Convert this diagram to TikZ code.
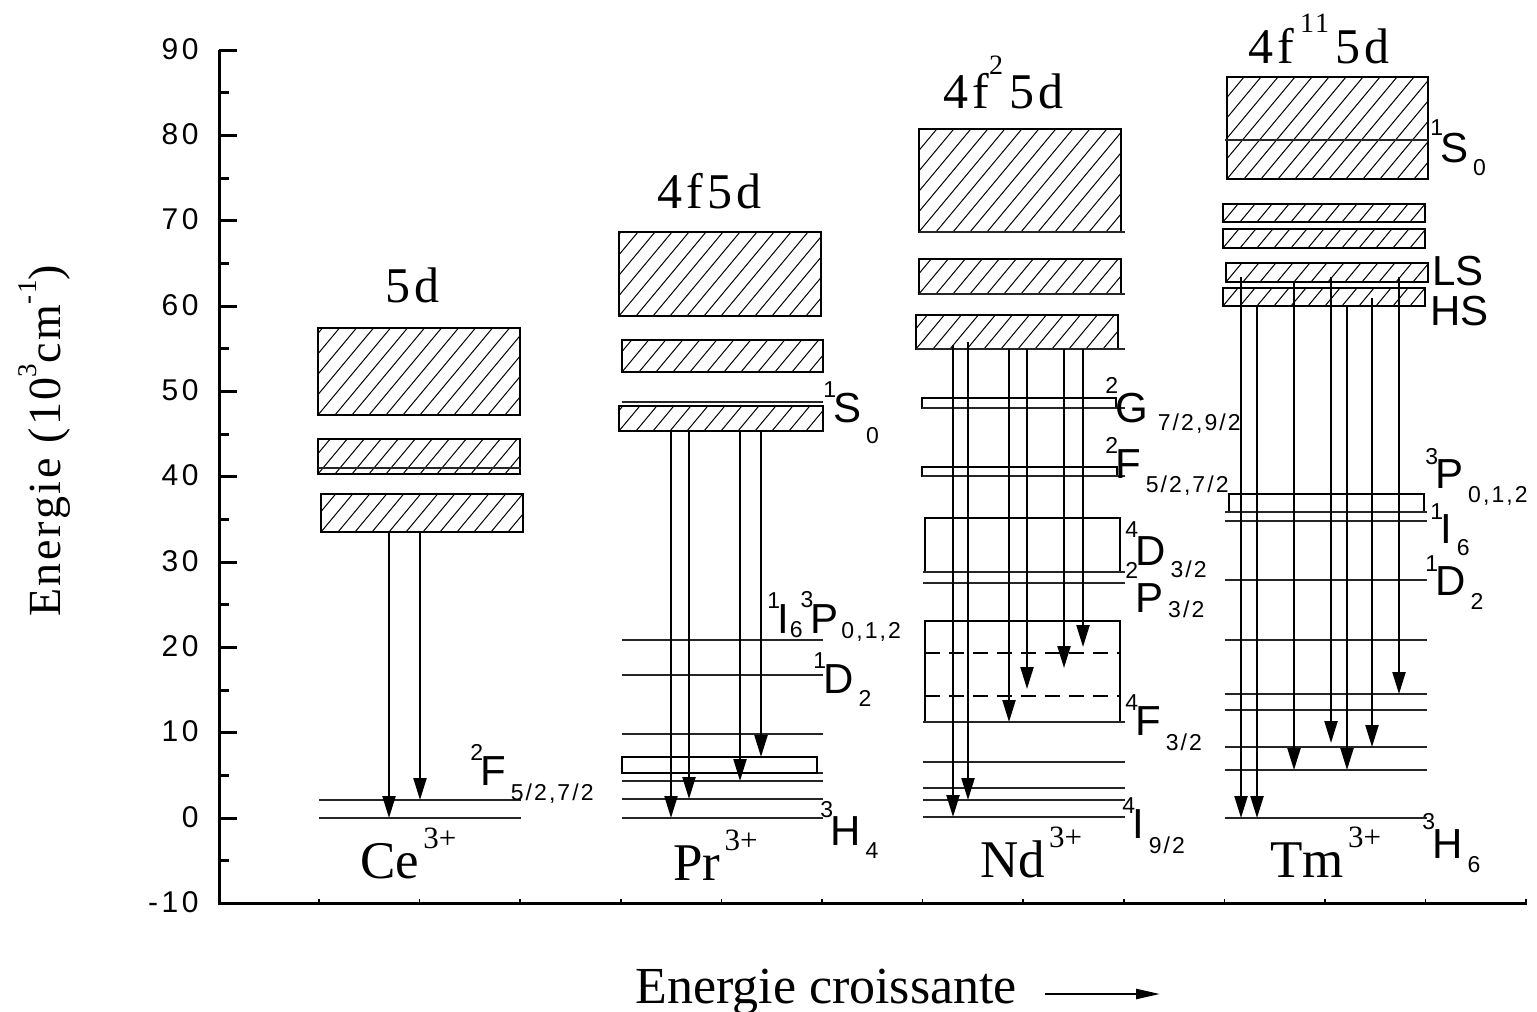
\documentclass[tikz,border=0pt]{standalone}
\usepackage{fontspec}
\setmainfont{Liberation Serif}
\newfontfamily\arialf{Liberation Sans}
\newfontfamily\arialsp[LetterSpace=9]{Liberation Sans}
\newfontfamily\ticksf[LetterSpace=12]{Liberation Sans}
\newfontfamily\timessp[LetterSpace=8]{Liberation Serif}
\newfontfamily\timesy[LetterSpace=6]{Liberation Serif}
\usetikzlibrary{arrows.meta}

\newcommand\smd[1]{{\arialsp\fontsize{11.5}{13}\selectfont #1}}
\newcommand\tsup[2][12.5pt]{\raisebox{#1}{\smd{#2}}\kern-1.5pt}
\newcommand\tsub[2][7pt]{\kern2.5pt\raisebox{-#1}{\smd{#2}}}
\newcommand\ionsup[1]{\kern2pt\raisebox{15pt}{\fontsize{15.5}{18}\selectfont #1}}

\tikzset{
  hatchline/.style={line width=0.5pt},
  boxline/.style={line width=1.3pt},
  lvl/.style={line width=0.7pt, black!85},
  trans/.style={line width=1.1pt, -{Triangle[length=11pt,width=6.5pt]}},
  term/.style={anchor=base west, inner sep=0pt, font=\arialf\fontsize{21}{24}\selectfont},
  ion/.style={anchor=base west, inner sep=0pt, font=\fontsize{26.5}{30}\selectfont},
  ttl/.style={anchor=base west, inner sep=0pt, font=\timessp\fontsize{25}{30}\selectfont},
  ticklab/.style={anchor=base east, inner sep=0pt, font=\ticksf\fontsize{15}{18}\selectfont},
  axisline/.style={line width=1.5pt},
  dashlvl/.style={line width=1.1pt, dash pattern=on 7.5pt off 4.5pt},
}

\newcommand\hatchrect[4]{%
  \begin{scope}
    \clip (#1,#2) rectangle (#3,#4);
    \foreach \k in {-8,...,14}{\draw[hatchline] ({#1+\k*17},#4) -- ++(160,-192);}
  \end{scope}
  \draw[boxline] (#1,#2) rectangle (#3,#4);
}
\newcommand\trans[4]{%
  \coordinate (#1s) at (#2,#3);
  \coordinate (#1e) at (#2,#4);
  \draw[trans] (#1s) -- (#1e);
}

\begin{document}
\begin{tikzpicture}[x=0.5pt,y=-0.5pt]
\useasboundingbox (0,0) rectangle (1537,1012);

% ---------- axes ----------
\draw[axisline] (219,50) -- (219,903) -- (1527,903);
\foreach \v in {-10,0,...,90}{
  \draw[axisline] (219,{818-8.533*\v}) -- (237,{818-8.533*\v});
  \node[ticklab] (tk\v) at (199,{818-8.533*\v+9}) {\v};
}
\foreach \v in {-5,5,...,85}{
  \draw[axisline] (219,{818-8.533*\v}) -- (229,{818-8.533*\v});
}
\foreach \k in {0,...,12}{
  \draw[line width=0.8pt] ({319+100.6*\k},903) -- ({319+100.6*\k},899);
}
\node[rotate=90, anchor=base, inner sep=0pt, font=\timesy\fontsize{23}{26}\selectfont] (ylab) at (60,441)
  {Energie (10\raisebox{12pt}{\fontsize{13.5}{15}\selectfont 3}cm\raisebox{12pt}{\fontsize{13.5}{15}\selectfont -1})};
\node[anchor=base west, inner sep=0pt, font=\fontsize{26}{30}\selectfont] (xlab) at (635,1003) {Energie croissante};
\coordinate (xa1) at (1045,994);
\coordinate (xa2) at (1160,994);
\draw[line width=1.2pt, -{Triangle[length=12pt,width=5pt]}] (xa1) -- (xa2);

% ---------- Ce3+ ----------
\hatchrect{318}{328}{520}{415}
\hatchrect{318}{439}{520}{474}
\draw[lvl] (318,468) -- (521,468);
\hatchrect{321}{494}{523}{532}
\draw[lvl] (319,800) -- (521,800);
\draw[lvl] (319,818) -- (521,818);
\trans{ce1}{389}{532}{818}
\trans{ce2}{420}{532}{800}
\node[ttl] (t5d) at (385,302) {5d};
\node[term] (ceF) at (470,785) {\tsup{2}F\tsub[7.5pt]{5/2,7/2}};
\node[ion] (ce) at (360,878) {Ce\ionsup{3+}};

% ---------- Pr3+ ----------
\hatchrect{619}{232}{821}{316}
\hatchrect{622}{340}{823}{372}
\draw[lvl] (622,402) -- (823,402);
\hatchrect{619}{406}{823}{431}
\foreach \yy in {640,675,734,773,781,799,818}{\draw[lvl] (622,\yy) -- (823,\yy);}
\draw[boxline] (622,757) rectangle (817,773);
\trans{pr1}{671}{431}{818}
\trans{pr2}{689}{431}{799}
\trans{pr3}{740}{431}{781}
\trans{pr4}{761}{431}{757}
\node[ttl] (t4f5d) at (657,208) {4f5d};
\node[term] (prS) at (823,422) {\tsup{1}S\tsub[10.5pt]{0}};
\node[term] (prIP) at (767,633) {\tsup{1}I\kern0.5pt\raisebox{-2pt}{\smd{6}}\kern-1pt\tsup[13pt]{3}P\kern1.5pt\raisebox{-2.5pt}{\smd{0,1,2}}};
\node[term] (prD) at (813,693) {\tsup{1}D\tsub[6.5pt]{2}};
\node[term] (prH) at (820,845) {\tsup[14pt]{3}H\tsub[6.5pt]{4}};
\node[ion] (pr) at (673,880) {Pr\ionsup{3+}};

% ---------- Nd3+ ----------
\hatchrect{919}{129}{1121}{232}
\draw[lvl] (919,232) -- (1125,232);
\hatchrect{919}{259}{1121}{294}
\draw[lvl] (919,294) -- (1125,294);
\hatchrect{916}{315}{1118}{349}
\draw[lvl] (916,349) -- (1125,349);
\draw[boxline] (922,398) rectangle (1116,408);
\draw[lvl] (922,408) -- (1125,408);
\draw[boxline] (922,467) rectangle (1117,476);
\draw[lvl] (922,476) -- (1125,476);
\draw[boxline] (925,518) rectangle (1120,572);
\draw[lvl] (923,572) -- (1125,572);
\draw[lvl] (923,583) -- (1125,583);
\draw[boxline] (925,621) rectangle (1120,722);
\draw[lvl] (923,722) -- (1125,722);
\draw[dashlvl] (925,653) -- (1120,653);
\draw[dashlvl] (925,696) -- (1120,696);
\foreach \yy in {762,788,800,817}{\draw[lvl] (923,\yy) -- (1125,\yy);}
\trans{nd1}{953}{345}{817}
\trans{nd2}{968}{342}{800}
\trans{nd3}{1009}{349}{722}
\trans{nd4}{1027}{349}{689}
\trans{nd5}{1064}{349}{668}
\trans{nd6}{1083}{349}{647}
\node[ttl] (t4f25d) at (943,108) {4f\raisebox{17pt}{\fontsize{14}{16}\selectfont 2}\kern3pt 5d};
\node[term] (ndG) at (1105,422) {\tsup[14.5pt]{2}G\kern2.5pt\tsub[4pt]{7/2,9/2}};
\node[term] (ndF) at (1105,478) {\tsup{2}F\tsub[7pt]{5/2,7/2}};
\node[term] (ndD) at (1125,565) {\tsup[14pt]{4}D\tsub[6pt]{3/2}};
\node[term] (ndP) at (1125,612) {\tsup[17pt]{2}P\tsub[2.5pt]{3/2}};
\node[term] (ndF2) at (1125,735) {\tsup{4}F\tsub[7.5pt]{3/2}};
\node[term] (ndI) at (1122,838) {\tsup{4}I\tsub[7.5pt]{9/2}};
\node[ion] (nd) at (980,877) {Nd\ionsup{3+}};

% ---------- Tm3+ ----------
\hatchrect{1227}{77}{1428}{179}
\draw[lvl] (1225,140) -- (1428,140);
\hatchrect{1223}{204}{1425}{222}
\hatchrect{1223}{229}{1425}{248}
\hatchrect{1226}{263}{1428}{282}
\hatchrect{1223}{288}{1425}{306}
\draw[boxline] (1229,494) rectangle (1424,512);
\foreach \yy in {512,521,580,640,694,710,747,770,818}{\draw[lvl] (1225,\yy) -- (1427,\yy);}
\trans{tm1}{1241}{277}{818}
\trans{tm2}{1257}{305}{818}
\trans{tm3}{1294}{282}{770}
\trans{tm4}{1331}{277}{743}
\trans{tm5}{1347}{305}{770}
\trans{tm6}{1372}{298}{747}
\trans{tm7}{1399}{277}{694}
\node[ttl] (t4f115d) at (1248,63) {4f\kern3pt\raisebox{15.5pt}{\fontsize{14}{16}\selectfont 11}\kern3pt 5d};
\node[term] (tmS) at (1430,162) {\tsup[13.5pt]{1}S\tsub[6.5pt]{0}};
\node[term] (tmLS) at (1432,285) {LS};
\node[term] (tmHS) at (1430,325) {HS};
\node[term] (tmP) at (1425,488) {\tsup[12pt]{3}P\tsub[7pt]{0,1,2}};
\node[term] (tmI) at (1430,543) {\tsup[12pt]{1}I\tsub[6pt]{6}};
\node[term] (tmD) at (1425,595) {\tsup[12pt]{1}D\tsub[7pt]{2}};
\node[term] (tmH) at (1422,858) {\tsup[14.5pt]{3}H\tsub[7pt]{6}};
\node[ion] (tm) at (1270,877) {Tm\ionsup{3+}};
\end{tikzpicture}
\end{document}
